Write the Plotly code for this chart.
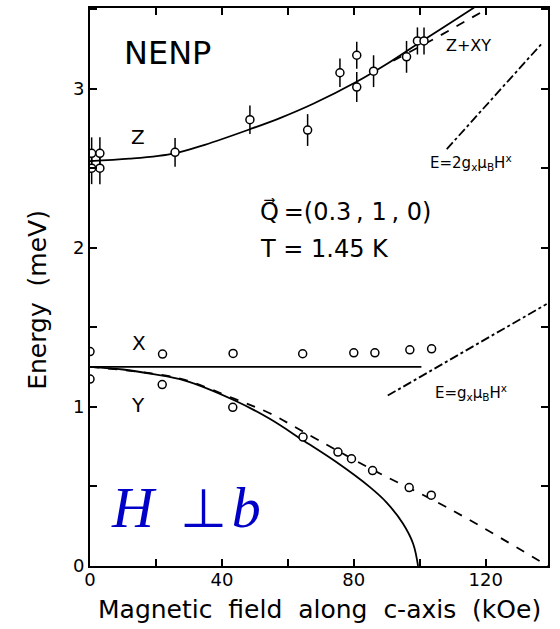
import plotly.graph_objects as go

# ---- measured excitation energies (meV) vs field along c (kOe) ----
z_field = [0.5, 3.0, 0.5, 3.0, 25.8, 48.5, 66.0, 75.8, 80.9, 80.9, 86.0, 96.0, 99.3, 101.3]
z_energy = [2.594, 2.594, 2.50, 2.50, 2.60, 2.805, 2.74, 3.10, 3.21, 3.01, 3.11, 3.20, 3.30, 3.30]
z_err = [0.10, 0.10, 0.10, 0.10, 0.09, 0.09, 0.10, 0.09, 0.085, 0.094, 0.10, 0.10, 0.085, 0.085]

x_field = [0.0, 22.0, 43.4, 64.5, 80.0, 86.4, 97.0, 103.6]
x_energy = [1.348, 1.332, 1.336, 1.334, 1.340, 1.340, 1.359, 1.365]

y_field = [0.0, 21.9, 43.3, 64.6, 75.2, 79.3, 85.7, 96.8, 103.5]
y_energy = [1.175, 1.140, 0.997, 0.810, 0.716, 0.674, 0.600, 0.493, 0.445]

# ---- theory curves ----
z_curve_h = [0.0, 12.0, 25.8, 34.8, 48.5, 57.6, 67.7, 81.0, 90.0, 100.0, 115.0, 116.5]
z_curve_e = [2.545, 2.560, 2.594, 2.647, 2.745, 2.815, 2.905, 3.045, 3.155, 3.290, 3.490, 3.510]

zxy_h = [92.0, 105.0, 119.5]
zxy_e = [3.175, 3.320, 3.490]

x_curve_h = [0.0, 100.5]
x_curve_e = [1.252, 1.252]

y_curve_h = [0.0, 10.0, 18.7, 28.8, 43.9, 54.5, 64.6, 74.7, 84.8, 89.9, 94.9, 98.0, 99.5]
y_curve_e = [1.252, 1.235, 1.207, 1.165, 1.040, 0.925, 0.790, 0.653, 0.497, 0.400, 0.267, 0.140, 0.0]

y_dash_h = [0.0, 18.7, 28.8, 43.9, 54.5, 64.6, 84.8, 109.0, 138.9]
y_dash_e = [1.252, 1.210, 1.170, 1.050, 0.960, 0.845, 0.615, 0.360, 0.0]

two_g_h = [108.2, 137.3]
two_g_e = [2.62, 3.29]

one_g_h = [90.3, 138.5]
one_g_e = [1.071, 1.647]

FONT = "DejaVu Sans"
LW = 1.8

fig = go.Figure()

def line(xs, ys, dash="solid", shape="linear"):
    fig.add_trace(go.Scatter(x=xs, y=ys, mode="lines", line_shape=shape,
                             line=dict(color="black", width=LW, dash=dash),
                             hoverinfo="skip"))

line(z_curve_h, z_curve_e, shape="spline")
line(zxy_h, zxy_e, dash="dash")
line(x_curve_h, x_curve_e)
line(y_curve_h, y_curve_e, shape="spline")
line(y_dash_h, y_dash_e, dash="dash", shape="spline")
line(two_g_h, two_g_e, dash="dashdot")
line(one_g_h, one_g_e, dash="dashdot")

marker = dict(symbol="circle", size=8, color="white",
              line=dict(color="black", width=1.5))

fig.add_trace(go.Scatter(x=z_field, y=z_energy, mode="markers", marker=marker,
                         error_y=dict(type="data", array=z_err, color="black",
                                      thickness=1.5, width=0)))
fig.add_trace(go.Scatter(x=x_field, y=x_energy, mode="markers", marker=marker))
fig.add_trace(go.Scatter(x=y_field, y=y_energy, mode="markers", marker=marker))

def text(x, y, s, size, xanchor="center", **kw):
    fig.add_annotation(x=x, y=y, text=s, showarrow=False, xanchor=xanchor,
                       yanchor="middle",
                       font=dict(family=kw.pop("family", FONT), size=size,
                                 color=kw.pop("color", "black")), **kw)

text(23.6, 3.222, "NENP", 32)
text(14.7, 2.696, "Z", 20)
text(15.0, 1.400, "X", 20)
text(14.7, 1.010, "Y", 20)
text(114.8, 3.269, "Z+XY", 16)
text(115.5, 2.536, "E=2g<sub>x</sub>μ<sub>B</sub>H<sup>x</sup>", 15)
text(115.5, 1.090, "E=g<sub>x</sub>μ<sub>B</sub>H<sup>x</sup>", 15)
text(50.9, 2.225, "Q\u20d7\u2009=(0.3\u2009,\u00a01\u2009,\u00a00)", 24, xanchor="left")
text(50.9, 1.995, "T\u00a0=\u00a01.45\u00a0K", 24, xanchor="left")
text(5.8, 0.370,
     "<i>H</i>\u00a0\u2009<span style=\"font-size:54px\">\u22a5</span>\u200a<i>b</i>", 58,
     xanchor="left", family="Liberation Serif", color="#0000c8")

sp = "\u00a0 "
fig.add_annotation(xref="paper", yref="paper", x=0.502, y=-0.0786,
                   text=f"Magnetic{sp}field{sp}along{sp}c-axis{sp}(kOe)",
                   showarrow=False, xanchor="center", yanchor="middle",
                   font=dict(family=FONT, size=25, color="black"))
fig.add_annotation(xref="paper", yref="paper", x=-0.1135, y=0.477,
                   text=f"Energy{sp}(meV)", textangle=-90,
                   showarrow=False, xanchor="center", yanchor="middle",
                   font=dict(family=FONT, size=25, color="black"))

x_ticks = [0, 20, 40, 60, 80, 100, 120]
x_labels = ["0", "", "40", "", "80", "", "120"]
y_ticks = [0, 0.5, 1, 1.5, 2, 2.5, 3, 3.5]
y_labels = ["0", "", "1", "", "2", "", "3", ""]

axis_common = dict(showline=True, linecolor="black", linewidth=2, mirror="ticks",
                   ticks="inside", ticklen=7, tickwidth=1.5, tickcolor="black",
                   showgrid=False, zeroline=False, tickmode="array",
                   tickfont=dict(family=FONT, size=18, color="black"))

fig.update_layout(
    width=560, height=629,
    margin=dict(l=90, r=12, t=6, b=63),
    paper_bgcolor="white", plot_bgcolor="white",
    showlegend=False,
    xaxis=dict(range=[0, 138.9], tickvals=x_ticks, ticktext=x_labels,
               ticklabelstandoff=-4, **axis_common),
    yaxis=dict(range=[0, 3.507], tickvals=y_ticks, ticktext=y_labels, **axis_common),
)

fig.write_html("out.html")
